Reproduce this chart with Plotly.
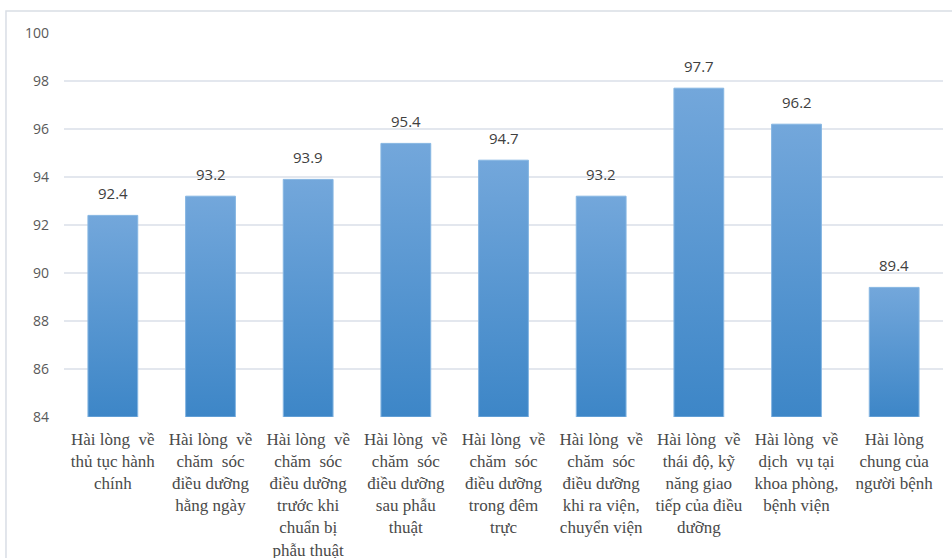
import plotly.graph_objects as go

# Satisfaction rates (%) by survey item
categories = [
    "Hài lòng  về<br>thủ tục hành<br>chính",
    "Hài lòng  về<br>chăm  sóc<br>điều dưỡng<br>hằng ngày",
    "Hài lòng  về<br>chăm  sóc<br>điều dưỡng<br>trước khi<br>chuẩn bị<br>phẫu thuật",
    "Hài lòng  về<br>chăm  sóc<br>điều dưỡng<br>sau phẫu<br>thuật",
    "Hài lòng  về<br>chăm  sóc<br>điều dưỡng<br>trong đêm<br>trực",
    "Hài lòng  về<br>chăm  sóc<br>điều dưỡng<br>khi ra viện,<br>chuyển viện",
    "Hài lòng  về<br>thái độ, kỹ<br>năng giao<br>tiếp của điều<br>dưỡng",
    "Hài lòng  về<br>dịch  vụ tại<br>khoa phòng,<br>bệnh viện",
    "Hài lòng<br>chung của<br>người bệnh",
]
values = [92.4, 93.2, 93.9, 95.4, 94.7, 93.2, 97.7, 96.2, 89.4]
y_ticks = [84, 86, 88, 90, 92, 94, 96, 98, 100]

Y_MIN, Y_MAX = 84, 100
HALF_W = 0.255
TOP_COLOR = "#73a7db"
BOTTOM_COLOR = "#3d86c7"

fig = go.Figure()

# Each bar is a filled polygon so it can carry a vertical gradient
for i, v in enumerate(values):
    fig.add_trace(go.Scatter(
        x=[i - HALF_W, i + HALF_W, i + HALF_W, i - HALF_W, i - HALF_W],
        y=[Y_MIN, Y_MIN, v, v, Y_MIN],
        mode="lines",
        fill="toself",
        fillgradient=dict(
            type="vertical",
            colorscale=[[0, BOTTOM_COLOR], [1, TOP_COLOR]],
            start=Y_MIN,
            stop=v,
        ),
        line=dict(color="#86b6e2", width=1),
        hoverinfo="skip",
        showlegend=False,
    ))
    fig.add_annotation(
        x=i, y=v, xref="x", yref="y",
        text=f"{v:.1f}",
        showarrow=False,
        yanchor="bottom",
        yshift=10,
        font=dict(family="Open Sans, Lato, sans-serif", size=15, color="#404040"),
    )

# Outer chart frame
fig.add_shape(
    type="rect", xref="paper", yref="paper",
    x0=-0.066, x1=1.03, y0=-0.40, y1=1.057,
    line=dict(color="#d9dee5", width=1.5),
    fillcolor="rgba(0,0,0,0)",
    layer="below",
)

fig.update_layout(
    width=952,
    height=558,
    margin=dict(l=64, r=9, t=33, b=141),
    paper_bgcolor="white",
    plot_bgcolor="white",
    showlegend=False,
    xaxis=dict(
        range=[-0.5, len(values) - 0.5],
        tickmode="array",
        tickvals=list(range(len(values))),
        ticktext=categories,
        showgrid=False,
        zeroline=False,
        showline=False,
        ticks="",
        automargin=False,
        ticklabelstandoff=10,
        tickfont=dict(family="Liberation Serif, Times New Roman, serif", size=17, color="#4a4a4a"),
    ),
    yaxis=dict(
        range=[Y_MIN, Y_MAX],
        tickmode="array",
        tickvals=y_ticks,
        showgrid=True,
        gridcolor="#e3e7ee",
        gridwidth=1.5,
        zeroline=False,
        showline=False,
        ticks="",
        automargin=False,
        ticklabelstandoff=14,
        tickfont=dict(family="Open Sans, Lato, sans-serif", size=14, color="#595959"),
    ),
)

fig.write_html("out.html")
